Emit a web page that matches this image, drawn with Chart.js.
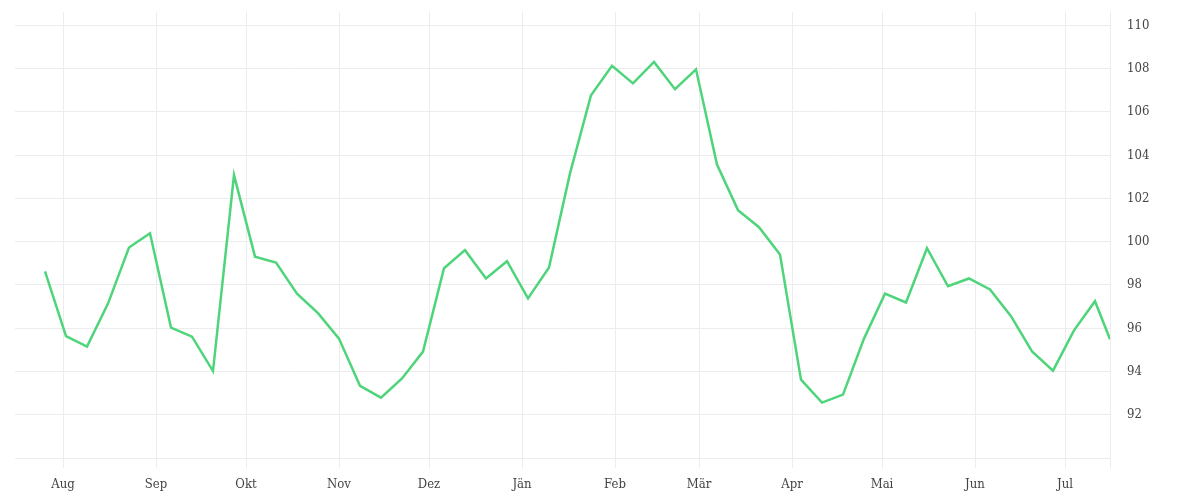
<!DOCTYPE html>
<html>
<head>
<meta charset="utf-8">
<script src="https://cdn.jsdelivr.net/npm/chart.js@4"></script>
<style>
  html, body { margin: 0; padding: 0; background: #fff; }
  #wrap { width: 1200px; height: 500px; }
</style>
</head>
<body>
<div id="wrap"><canvas id="myChart"></canvas></div>
<script>
// weekly closing values
const dates = [
  "2022-07-26", "2022-08-02", "2022-08-09", "2022-08-16", "2022-08-23", "2022-08-30",
  "2022-09-06", "2022-09-13", "2022-09-20", "2022-09-27", "2022-10-04", "2022-10-11",
  "2022-10-18", "2022-10-25", "2022-11-01", "2022-11-08", "2022-11-15", "2022-11-22",
  "2022-11-29", "2022-12-06", "2022-12-13", "2022-12-20", "2022-12-27", "2023-01-03",
  "2023-01-10", "2023-01-17", "2023-01-24", "2023-01-31", "2023-02-07", "2023-02-14",
  "2023-02-21", "2023-02-28", "2023-03-07", "2023-03-14", "2023-03-21", "2023-03-28",
  "2023-04-04", "2023-04-11", "2023-04-18", "2023-04-25", "2023-05-02", "2023-05-09",
  "2023-05-16", "2023-05-23", "2023-05-30", "2023-06-06", "2023-06-13", "2023-06-20",
  "2023-06-27", "2023-07-04", "2023-07-11", "2023-07-16"
];
const prices = [
  98.63, 95.63, 95.15, 97.14, 99.73, 100.39,
  96.03, 95.61, 94.02, 103.08, 99.31, 99.04,
  97.60, 96.70, 95.52, 93.34, 92.79, 93.68,
  94.92, 98.77, 99.61, 98.30, 99.10, 97.38,
  98.81, 103.16, 106.77, 108.13, 107.32, 108.31,
  107.05, 107.97, 103.57, 101.46, 100.67, 99.41,
  93.62, 92.56, 92.93, 95.52, 97.60, 97.19,
  99.70, 97.94, 98.30, 97.79, 96.56, 94.93,
  94.04, 95.90, 97.25, 95.49
];

// x axis: month starts and their labels, plus the visible range
const monthStarts = [
  "2022-08-01", "2022-09-01", "2022-10-01", "2022-11-01", "2022-12-01", "2023-01-01",
  "2023-02-01", "2023-03-01", "2023-04-01", "2023-05-01", "2023-06-01", "2023-07-01"
];
const monthLabels = ["Aug", "Sep", "Okt", "Nov", "Dez", "Jän", "Feb", "Mär", "Apr", "Mai", "Jun", "Jul"];
const rangeStart = "2022-07-16";
const rangeEnd = "2023-07-16";

// y axis
const yMin = 90;
const yMax = 110.62;
const yStep = 2;

const toDay = (s) => Date.parse(s + "T00:00:00Z") / 86400000;

const points = dates.map((d, i) => ({ x: toDay(d), y: prices[i] }));
const labelByDay = {};
monthStarts.forEach((m, i) => { labelByDay[toDay(m)] = monthLabels[i]; });

const fontFamily = '"DejaVu Serif Condensed", "DejaVu Serif", serif';
const ctx = document.querySelector("#myChart");

const config = {
  type: "line",
  data: {
    datasets: [
      {
        label: "Kurs",
        data: points,
        borderColor: "rgb(78, 212, 122)",
        borderWidth: 2.5,
        pointRadius: 0,
        tension: 0,
        fill: false,
      },
    ],
  },
  options: {
    responsive: true,
    maintainAspectRatio: false,
    animation: false,
    layout: { padding: { top: 12, left: 15, right: 0, bottom: 0 } },
    plugins: {
      legend: { display: false },
      tooltip: { enabled: false },
    },
    scales: {
      x: {
        type: "linear",
        min: toDay(rangeStart),
        max: toDay(rangeEnd),
        border: { display: false },
        grid: { color: "#ececec", lineWidth: 1, drawTicks: true, tickLength: 10 },
        afterBuildTicks: (scale) => {
          scale.ticks = monthStarts.map((m) => ({ value: toDay(m) }))
            .concat([{ value: toDay(rangeEnd) }]);
        },
        afterFit: (scale) => {
          scale.height = 42;
          scale.paddingLeft = 0;
          scale.paddingRight = 0;
        },
        ticks: {
          autoSkip: false,
          maxRotation: 0,
          padding: 9,
          color: "#444",
          font: { family: fontFamily, size: 13 },
          callback: (value) => labelByDay[value] || "",
        },
      },
      y: {
        position: "right",
        min: yMin,
        max: yMax,
        border: { display: false },
        grid: { color: "#ececec", lineWidth: 1, drawTicks: false },
        afterFit: (scale) => {
          scale.width = 90;
          scale.paddingTop = 0;
          scale.paddingBottom = 0;
        },
        ticks: {
          stepSize: yStep,
          includeBounds: false,
          padding: 17,
          color: "#444",
          font: { family: fontFamily, size: 13 },
          callback: (value) => (value === yMin ? "" : value),
        },
      },
    },
  },
};

let myChart = new Chart(ctx, config);
</script>
</body>
</html>
